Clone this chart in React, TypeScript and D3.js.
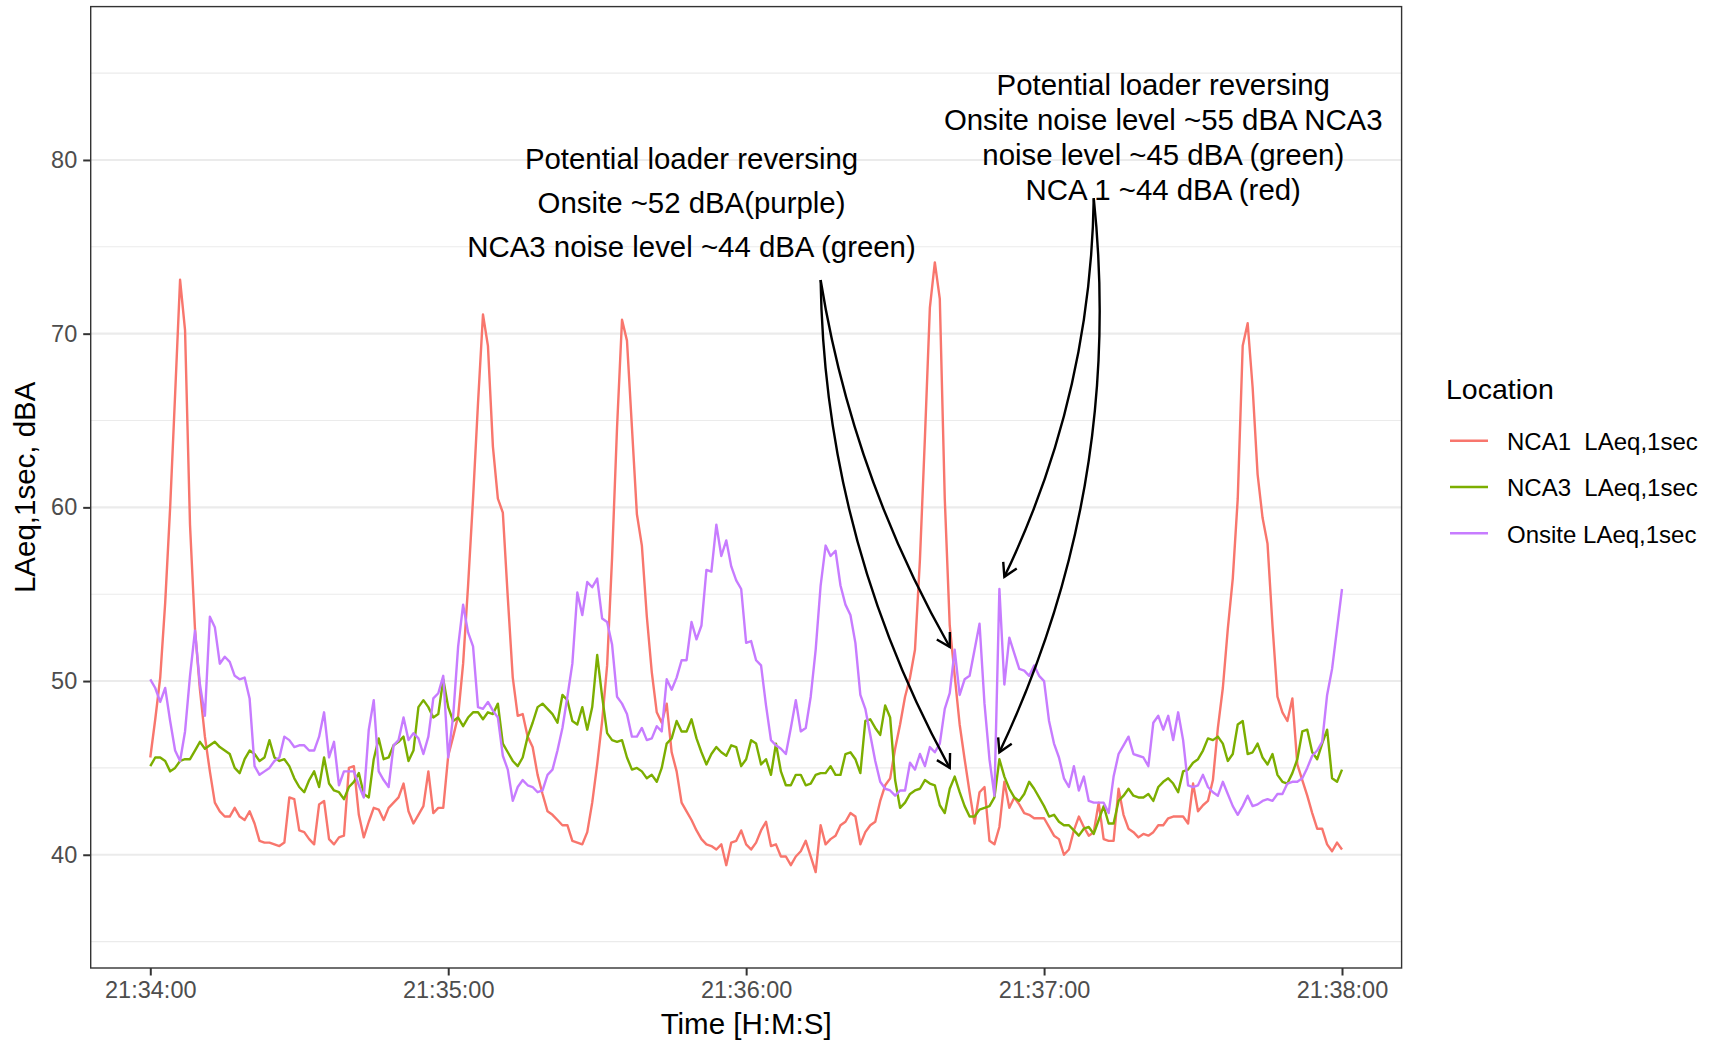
import React, { useRef, useEffect } from 'react';
import * as d3 from 'd3';

const WIDTH = 1725;
const HEIGHT = 1042;

// recording starts at 21:34:00, one reading per second
const startTime = new Date(2021, 0, 1, 21, 34, 0);

const seriesNames = ['NCA1  LAeq,1sec', 'NCA3  LAeq,1sec', 'Onsite LAeq,1sec'];
const seriesColors = ['#F8766D', '#7CAE00', '#C77CFF'];

const nca1 = [
  45.6, 47.8, 50.2, 54.5, 60, 66.5, 73.1, 70.2, 59, 53, 49.5, 46.8, 44.8, 43, 42.5, 42.2, 42.2, 42.7, 42.2, 42,
  42.5, 41.8, 40.8, 40.7, 40.7, 40.6, 40.5, 40.7, 43.3, 43.2, 41.4, 41.3, 40.9, 40.6, 42.9, 43.1, 40.9, 40.6, 41, 41.1,
  45, 45.1, 42.3, 41, 41.9, 42.7, 42.6, 42, 42.7, 43, 43.3, 44.1, 42.5, 41.8, 42.3, 42.8, 44.8, 42.4, 42.7, 42.7,
  45.7, 46.8, 48, 51, 55.5, 60.5, 66, 71.1, 69.3, 63.5, 60.5, 59.7, 54.8, 50.2, 48, 48.1, 46.8, 46.2, 44.6, 43.5,
  42.5, 42.3, 42, 41.7, 41.7, 40.8, 40.7, 40.6, 41.3, 43, 45.2, 47.7, 50.9, 57.1, 64.6, 70.8, 69.6, 64.6, 59.6, 57.8,
  53.7, 50.5, 48.2, 47.6, 48.7, 45.9, 44.8, 43, 42.5, 42, 41.4, 40.9, 40.6, 40.5, 40.3, 40.6, 39.4, 40.7, 40.8, 41.4,
  40.6, 40.3, 40.7, 41.4, 41.9, 40.5, 40.6, 39.9, 39.9, 39.4, 39.9, 40.2, 40.8, 39.9, 39, 41.7, 40.6, 40.9, 41.1, 41.7,
  41.9, 42.4, 42.2, 40.6, 41.3, 41.7, 41.9, 43.1, 44, 44.4, 46.1, 47.5, 49.1, 50.2, 51.8, 57, 64, 71.5, 74.1, 72,
  60.5, 53.2, 50.3, 47.5, 45.5, 43.6, 41.8, 43.6, 43.9, 40.8, 40.6, 41.6, 44.2, 42.7, 43.3, 42.9, 42.4, 42.3, 42.1, 42.1,
  42.1, 41.6, 41.1, 40.9, 40, 40.3, 41.4, 42.2, 41.6, 41.1, 41.3, 43, 40.9, 40.8, 40.8, 43.8, 42.3, 41.5, 41.3, 41,
  41.2, 41.1, 41.3, 41.7, 41.7, 42.1, 42.2, 42.2, 42.2, 41.8, 44.1, 42.5, 42.85, 43.1, 44.3, 47.3, 49.6, 53, 55.9, 60.5,
  69.3, 70.6, 66.9, 61.9, 59.4, 57.9, 53.2, 49.1, 48.2, 47.7, 49, 45.2, 44.3, 43.4, 42.4, 41.5, 41.5, 40.6, 40.2, 40.7,
  40.3,
];

const nca3 = [
  45.1, 45.6, 45.6, 45.4, 44.8, 45, 45.4, 45.5, 45.5, 46, 46.5, 46.1, 46.3, 46.5, 46.2, 46, 45.8, 45, 44.7, 45.5,
  46, 45.8, 45.4, 45.6, 46.6, 45.6, 45.4, 45.5, 45.1, 44.4, 43.9, 43.6, 44.3, 44.8, 43.9, 45.6, 44.1, 43.7, 43.6, 43.2,
  43.9, 44.2, 44.7, 43.5, 43.3, 45.5, 46.7, 45.5, 45.6, 46.3, 46.5, 46.8, 45.4, 46, 48.5, 48.9, 48.5, 47.9, 48.1, 50.1,
  48.5, 47.7, 47.9, 47.4, 47.9, 48.2, 48.2, 47.8, 48.2, 48.1, 48.7, 46.4, 45.9, 45.4, 45.1, 45.6, 46.8, 47.6, 48.5, 48.7,
  48.4, 48.1, 47.6, 49.2, 48.9, 47.7, 47.5, 48.5, 47.2, 48.5, 51.5, 49.1, 47, 46.6, 46.5, 46.6, 45.6, 44.9, 45, 44.8,
  44.4, 44.6, 44.2, 45, 46.4, 46.7, 47.7, 47.1, 47.1, 47.8, 46.7, 45.9, 45.2, 45.8, 46.2, 45.9, 45.7, 46.3, 46.2, 45.1,
  45.5, 46.6, 46.4, 45.2, 45.5, 44.6, 46.4, 44.8, 44, 44, 44.6, 44.6, 44, 44.1, 44.6, 44.7, 44.7, 45.1, 44.6, 44.6,
  45.8, 45.9, 45.5, 44.7, 47.7, 47.8, 47.3, 46.9, 48.6, 47.9, 44.3, 42.7, 43, 43.5, 43.7, 43.8, 44.3, 44.1, 44, 42.85,
  42.4, 43.8, 44.5, 43.6, 42.8, 42.2, 42.2, 42.6, 42.7, 42.8, 43.3, 45.5, 44.5, 43.8, 43.3, 43.1, 43.5, 44.2, 43.8, 43.3,
  42.8, 42.2, 42.3, 41.9, 41.7, 41.7, 41.4, 41.1, 41.5, 41.6, 41.2, 42, 42.8, 41.8, 41.8, 43.1, 43.4, 43.8, 43.4, 43.3,
  43.3, 43.5, 43.1, 43.9, 44.2, 44.4, 44.1, 43.6, 44.8, 44.9, 45.3, 45.5, 46, 46.7, 46.6, 46.8, 46.4, 45.4, 45.8, 47.5,
  47.7, 45.8, 45.9, 46.4, 45.6, 45.2, 45.8, 44.6, 44.2, 44.1, 44.7, 45.5, 47.1, 47.2, 45.9, 45.5, 46.4, 47.2, 44.4, 44.2,
  44.9,
];

const onsite = [
  50.1, 49.6, 48.8, 49.6, 47.7, 46, 45.4, 47.1, 50.3, 52.9, 49.8, 48, 53.7, 53.1, 51, 51.4, 51.1, 50.3, 50.1, 50.2,
  49, 45.1, 44.6, 44.8, 45, 45.4, 45.6, 46.8, 46.6, 46.2, 46.3, 46.3, 46, 46, 46.8, 48.2, 45.6, 46.5, 44, 44.8,
  44.8, 44.8, 44, 43.3, 47.2, 48.9, 44.8, 44.3, 43.9, 46.3, 46.6, 47.9, 46.6, 47, 46.7, 45.8, 46.8, 49, 49.3, 50.3,
  45.6, 48, 52, 54.4, 52.8, 52, 48.5, 48.4, 48.8, 48.3, 47.9, 45.7, 44.9, 43.1, 43.9, 44.3, 44, 43.9, 43.6, 43.7,
  44.6, 44.9, 46, 47.3, 49.1, 51, 55.1, 53.8, 55.7, 55.4, 55.9, 53.6, 53.4, 52.1, 49.1, 48.7, 48.1, 46.8, 46.8, 47.3,
  46.6, 46.7, 47.4, 47.1, 50.1, 49.5, 50.2, 51.2, 51.2, 53.4, 52.4, 53.2, 56.4, 56.3, 59, 57.2, 58.1, 56.6, 55.8, 55.3,
  52.2, 52.3, 51.2, 50.9, 48.6, 46.6, 46.3, 46.1, 45.8, 47.3, 48.9, 47.1, 47.3, 49.1, 51.8, 55.5, 57.8, 57.2, 57.5, 55.5,
  54.4, 53.8, 52.2, 49.2, 48.4, 46.9, 45.4, 44.2, 43.8, 43.7, 43.4, 43.7, 43.7, 45.3, 44.9, 45.8, 45.1, 46.2, 45.9, 46.4,
  48.4, 49.3, 51.8, 49.2, 50.1, 50.3, 51.8, 53.3, 48.7, 45.5, 43.4, 55.3, 49.8, 52.5, 51.6, 50.7, 50.6, 50.3, 50.9, 50.3,
  50, 47.7, 46.4, 45.6, 44.4, 43.9, 45.1, 43.7, 44.5, 43.1, 43, 43, 43, 42.4, 44.5, 45.8, 46.3, 46.8, 45.8, 45.7,
  45.6, 45.1, 47.6, 48, 47.2, 48, 46.6, 48.2, 46.6, 44, 43.9, 44, 44.6, 43.9, 43.6, 43.4, 44.2, 43.5, 42.8, 42.3,
  42.8, 43.4, 42.8, 42.9, 43.1, 43.2, 43.1, 43.5, 43.5, 44.1, 44.2, 44.2, 44.4, 45, 45.7, 46, 46.5, 49.2, 50.7, 53,
  55.3,
];

const yTicks = [40, 50, 60, 70, 80];
const yMinorTicks = [35, 45, 55, 65, 75, 85];

// annotation text blocks: x in seconds after start, y in dBA (first line)
const notes = [
  {
    sec: 109.1,
    db: 79.5,
    lineGap: 44,
    lines: ['Potential loader reversing', 'Onsite ~52 dBA(purple)', 'NCA3 noise level ~44 dBA (green)'],
  },
  {
    sec: 204.3,
    db: 83.72,
    lineGap: 35,
    lines: ['Potential loader reversing', 'Onsite noise level ~55 dBA NCA3', 'noise level ~45 dBA (green)', 'NCA 1 ~44 dBA (red)'],
  },
];

// curved arrows: seconds / dBA for start and end, bend as fraction of chord
const arrows = [
  { x0: 135.8, y0: 73.09, x1: 161.2, y1: 51.96, bend: 0.045 },
  { x0: 135.8, y0: 73.09, x1: 161.5, y1: 45.0, bend: 0.062 },
  { x0: 190.4, y0: 77.8, x1: 172.5, y1: 56.0, bend: -0.055 },
  { x0: 190.4, y0: 77.8, x1: 171.5, y1: 45.9, bend: -0.07 },
];

const FONT = "'Liberation Sans', Arial, Helvetica, sans-serif";

const App = () => {
  const chartRef = useRef(null);

  useEffect(() => {
    const svg = d3.select(chartRef.current);
    svg.selectAll('*').remove();

    // panel box
    const left = 90.7;
    const right = 1401.6;
    const top = 6.6;
    const bottom = 968;

    const sec = (s) => d3.timeSecond.offset(startTime, s);

    const x = d3.scaleTime().domain([sec(-12), sec(252)]).range([left, right]);
    const y = d3.scaleLinear().domain([33.48, 88.83]).range([bottom, top]);

    svg.append('rect').attr('width', WIDTH).attr('height', HEIGHT).attr('fill', '#ffffff');

    // grid
    const grid = svg.append('g');
    grid
      .selectAll('line.minor')
      .data(yMinorTicks)
      .join('line')
      .attr('x1', left)
      .attr('x2', right)
      .attr('y1', (d) => y(d))
      .attr('y2', (d) => y(d))
      .attr('stroke', '#EBEBEB')
      .attr('stroke-width', 1.1);
    grid
      .selectAll('line.major')
      .data(yTicks)
      .join('line')
      .attr('x1', left)
      .attr('x2', right)
      .attr('y1', (d) => y(d))
      .attr('y2', (d) => y(d))
      .attr('stroke', '#EBEBEB')
      .attr('stroke-width', 2.1);

    // lines
    const line = d3
      .line()
      .x((d, i) => x(sec(i)))
      .y((d) => y(d));

    [nca1, nca3, onsite].forEach((values, k) => {
      svg
        .append('path')
        .datum(values)
        .attr('d', line)
        .attr('fill', 'none')
        .attr('stroke', seriesColors[k])
        .attr('stroke-width', 2.4)
        .attr('stroke-linejoin', 'round');
    });

    // curved annotation arrows
    arrows.forEach((a) => {
      const sx = x(sec(a.x0));
      const sy = y(a.y0);
      const ex = x(sec(a.x1));
      const ey = y(a.y1);
      const dx = ex - sx;
      const dy = ey - sy;
      const len = Math.sqrt(dx * dx + dy * dy);
      const cx = (sx + ex) / 2 + (-dy / len) * 2 * a.bend * len;
      const cy = (sy + ey) / 2 + (dx / len) * 2 * a.bend * len;

      const p = d3.path();
      p.moveTo(sx, sy);
      p.quadraticCurveTo(cx, cy, ex, ey);
      svg
        .append('path')
        .attr('d', p.toString())
        .attr('fill', 'none')
        .attr('stroke', '#000000')
        .attr('stroke-width', 2.4);

      // open arrow head
      const ang = Math.atan2(ey - cy, ex - cx);
      const head = 15;
      const spread = Math.PI / 6;
      const h = d3.path();
      h.moveTo(ex - head * Math.cos(ang - spread), ey - head * Math.sin(ang - spread));
      h.lineTo(ex, ey);
      h.lineTo(ex - head * Math.cos(ang + spread), ey - head * Math.sin(ang + spread));
      svg
        .append('path')
        .attr('d', h.toString())
        .attr('fill', 'none')
        .attr('stroke', '#000000')
        .attr('stroke-width', 2.4)
        .attr('stroke-linejoin', 'miter');
    });

    // annotation text
    notes.forEach((n) => {
      const t = svg
        .append('text')
        .attr('x', x(sec(n.sec)))
        .attr('y', y(n.db))
        .attr('text-anchor', 'middle')
        .attr('font-family', FONT)
        .attr('font-size', 29.4)
        .attr('fill', '#000000');
      n.lines.forEach((s, i) => {
        t.append('tspan')
          .attr('x', x(sec(n.sec)))
          .attr('dy', i === 0 ? 0 : n.lineGap)
          .text(s);
      });
    });

    // panel border
    svg
      .append('rect')
      .attr('x', left)
      .attr('y', top)
      .attr('width', right - left)
      .attr('height', bottom - top)
      .attr('fill', 'none')
      .attr('stroke', '#333333')
      .attr('stroke-width', 1.4);

    // axes
    const yAxis = d3.axisLeft(y).tickValues(yTicks).tickSize(7.5).tickPadding(6);
    const gy = svg.append('g').attr('transform', `translate(${left},0)`).call(yAxis);

    const xAxis = d3
      .axisBottom(x)
      .ticks(d3.timeMinute.every(1))
      .tickFormat(d3.timeFormat('%H:%M:%S'))
      .tickSize(7.5)
      .tickPadding(6);
    const gx = svg.append('g').attr('transform', `translate(0,${bottom})`).call(xAxis);

    [gx, gy].forEach((g) => {
      g.select('.domain').remove();
      g.selectAll('.tick line').attr('stroke', '#333333').attr('stroke-width', 2);
      g.selectAll('.tick text')
        .attr('fill', '#4D4D4D')
        .attr('font-family', FONT)
        .attr('font-size', 23.5);
    });

    // axis titles
    svg
      .append('text')
      .attr('x', (left + right) / 2)
      .attr('y', 1034)
      .attr('text-anchor', 'middle')
      .attr('font-family', FONT)
      .attr('font-size', 29.5)
      .text('Time [H:M:S]');

    svg
      .append('text')
      .attr('transform', `translate(35,${(top + bottom) / 2}) rotate(-90)`)
      .attr('text-anchor', 'middle')
      .attr('font-family', FONT)
      .attr('font-size', 29.5)
      .text('LAeq,1sec, dBA');

    // legend
    const legend = svg.append('g').attr('transform', 'translate(1448,0)');
    legend
      .append('text')
      .attr('x', -2)
      .attr('y', 399)
      .attr('font-family', FONT)
      .attr('font-size', 28.5)
      .text('Location');

    seriesNames.forEach((name, i) => {
      const ky = 440.7 + i * 46.3;
      legend
        .append('line')
        .attr('x1', 2)
        .attr('x2', 40)
        .attr('y1', ky)
        .attr('y2', ky)
        .attr('stroke', seriesColors[i])
        .attr('stroke-width', 2.4);
      legend
        .append('text')
        .attr('x', 59)
        .attr('y', ky + 9.3)
        .attr('font-family', FONT)
        .attr('font-size', 24)
        .style('white-space', 'pre')
        .text(name);
    });
  }, []);

  return (
    <svg
      ref={chartRef}
      width={WIDTH}
      height={HEIGHT}
      style={{ position: 'absolute', left: 0, top: 0, display: 'block' }}
    />
  );
};

export default App;
